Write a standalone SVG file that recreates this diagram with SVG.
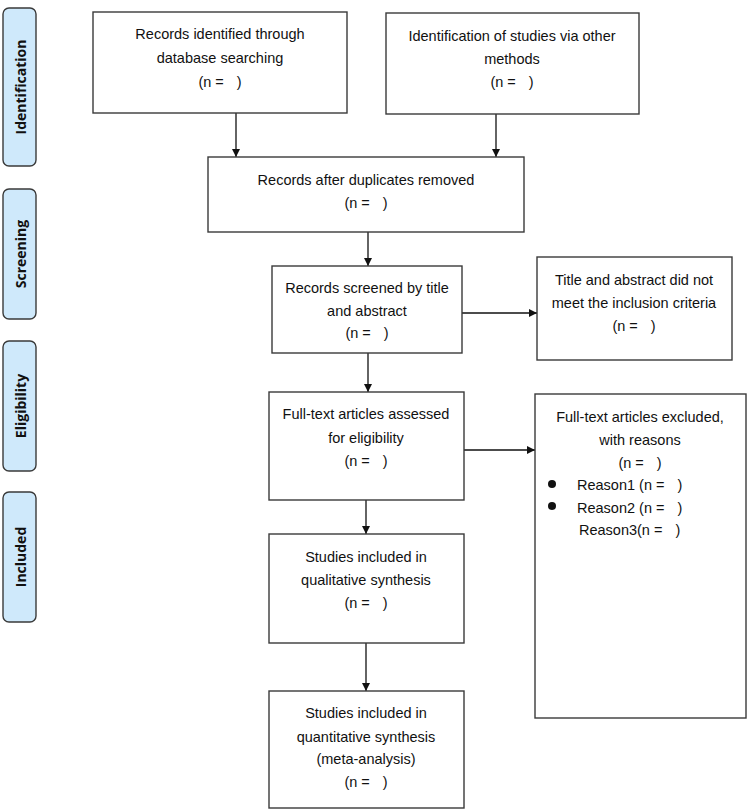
<svg xmlns="http://www.w3.org/2000/svg" width="750" height="811" viewBox="0 0 750 811">
<style>
.box{fill:#fff;stroke:#3a3a3a;stroke-width:1.4}
.side{fill:#cfe9fb;stroke:#3a3a3a;stroke-width:1.4}
.t{font-family:"Liberation Sans",Arial,sans-serif;font-size:14.5px;fill:#111;text-anchor:middle;dominant-baseline:central}
.tl{font-family:"Liberation Sans",Arial,sans-serif;font-size:14.5px;fill:#111;dominant-baseline:central}
.s{font-family:"Open Sans","Liberation Sans",sans-serif;font-size:14px;font-weight:bold;fill:#111;text-anchor:middle;dominant-baseline:central}
.c{stroke:#111;stroke-width:1.3;fill:none;marker-end:url(#ah)}
</style>
<defs>
<marker id="ah" viewBox="0 0 10 10" refX="10" refY="5" markerWidth="8" markerHeight="8" markerUnits="userSpaceOnUse" orient="auto">
<path d="M0,0 L10,5 L0,10 z" fill="#111"/>
</marker>
</defs>
<rect width="750" height="811" fill="#fff"/>

<g id="side-identification"><rect class="side" x="3" y="8" width="33" height="158" rx="6"/><text class="s" transform="translate(20,87) rotate(-90)">Identification</text></g>
<g id="side-screening"><rect class="side" x="3" y="189" width="33" height="130" rx="6"/><text class="s" transform="translate(20,254) rotate(-90)">Screening</text></g>
<g id="side-eligibility"><rect class="side" x="3" y="341" width="33" height="130" rx="6"/><text class="s" transform="translate(20,406) rotate(-90)">Eligibility</text></g>
<g id="side-included"><rect class="side" x="3" y="492" width="33" height="130" rx="6"/><text class="s" transform="translate(20,557) rotate(-90)">Included</text></g>

<g id="connectors">
<line class="c" x1="236" y1="113" x2="236" y2="157"/>
<line class="c" x1="496" y1="114" x2="496" y2="157"/>
<line class="c" x1="368" y1="232" x2="368" y2="266"/>
<line class="c" x1="462" y1="313" x2="537" y2="313"/>
<line class="c" x1="368" y1="353" x2="368" y2="392"/>
<line class="c" x1="464" y1="450" x2="535" y2="450"/>
<line class="c" x1="366" y1="500" x2="366" y2="534"/>
<line class="c" x1="366" y1="643" x2="366" y2="691"/>
</g>

<g id="n1"><rect class="box" x="93" y="12" width="254" height="101"/>
<text class="t" x="220" y="34">Records identified through</text>
<text class="t" x="220" y="58">database searching</text>
<text class="t" x="220" y="82">(n =<tspan dx="13">)</tspan></text></g>

<g id="n2"><rect class="box" x="386" y="13" width="253" height="101"/>
<text class="t" x="512" y="36">Identification of studies via other</text>
<text class="t" x="512" y="59">methods</text>
<text class="t" x="512" y="82">(n =<tspan dx="13">)</tspan></text></g>

<g id="n3"><rect class="box" x="208" y="157" width="316" height="75"/>
<text class="t" x="366" y="180">Records after duplicates removed</text>
<text class="t" x="366" y="203">(n =<tspan dx="13">)</tspan></text></g>

<g id="n4"><rect class="box" x="272" y="266" width="190" height="87"/>
<text class="t" x="367" y="288">Records screened by title</text>
<text class="t" x="367" y="311">and abstract</text>
<text class="t" x="367" y="333">(n =<tspan dx="13">)</tspan></text></g>

<g id="n5"><rect class="box" x="537" y="257" width="195" height="103"/>
<text class="t" x="634" y="280">Title and abstract did not</text>
<text class="t" x="634" y="303">meet the inclusion criteria</text>
<text class="t" x="634" y="326">(n =<tspan dx="13">)</tspan></text></g>

<g id="n6"><rect class="box" x="269" y="392" width="195" height="108"/>
<text class="t" x="366" y="414">Full-text articles assessed</text>
<text class="t" x="366" y="438">for eligibility</text>
<text class="t" x="366" y="461">(n =<tspan dx="13">)</tspan></text></g>

<g id="n7"><rect class="box" x="535" y="394" width="211" height="324"/>
<text class="t" x="640" y="417">Full-text articles excluded,</text>
<text class="t" x="640" y="440">with reasons</text>
<text class="t" x="640" y="463">(n =<tspan dx="13">)</tspan></text>
<circle cx="552" cy="484" r="4" fill="#111"/>
<text class="tl" x="577" y="485">Reason1 (n =<tspan dx="13">)</tspan></text>
<circle cx="552" cy="506" r="4" fill="#111"/>
<text class="tl" x="577" y="508">Reason2 (n =<tspan dx="13">)</tspan></text>
<text class="tl" x="579" y="530">Reason3(n =<tspan dx="13">)</tspan></text></g>

<g id="n8"><rect class="box" x="269" y="534" width="195" height="109"/>
<text class="t" x="366" y="557">Studies included in</text>
<text class="t" x="366" y="580">qualitative synthesis</text>
<text class="t" x="366" y="603">(n =<tspan dx="13">)</tspan></text></g>

<g id="n9"><rect class="box" x="269" y="691" width="195" height="117"/>
<text class="t" x="366" y="713">Studies included in</text>
<text class="t" x="366" y="737">quantitative synthesis</text>
<text class="t" x="366" y="759">(meta-analysis)</text>
<text class="t" x="366" y="782">(n =<tspan dx="13">)</tspan></text></g>
</svg>
